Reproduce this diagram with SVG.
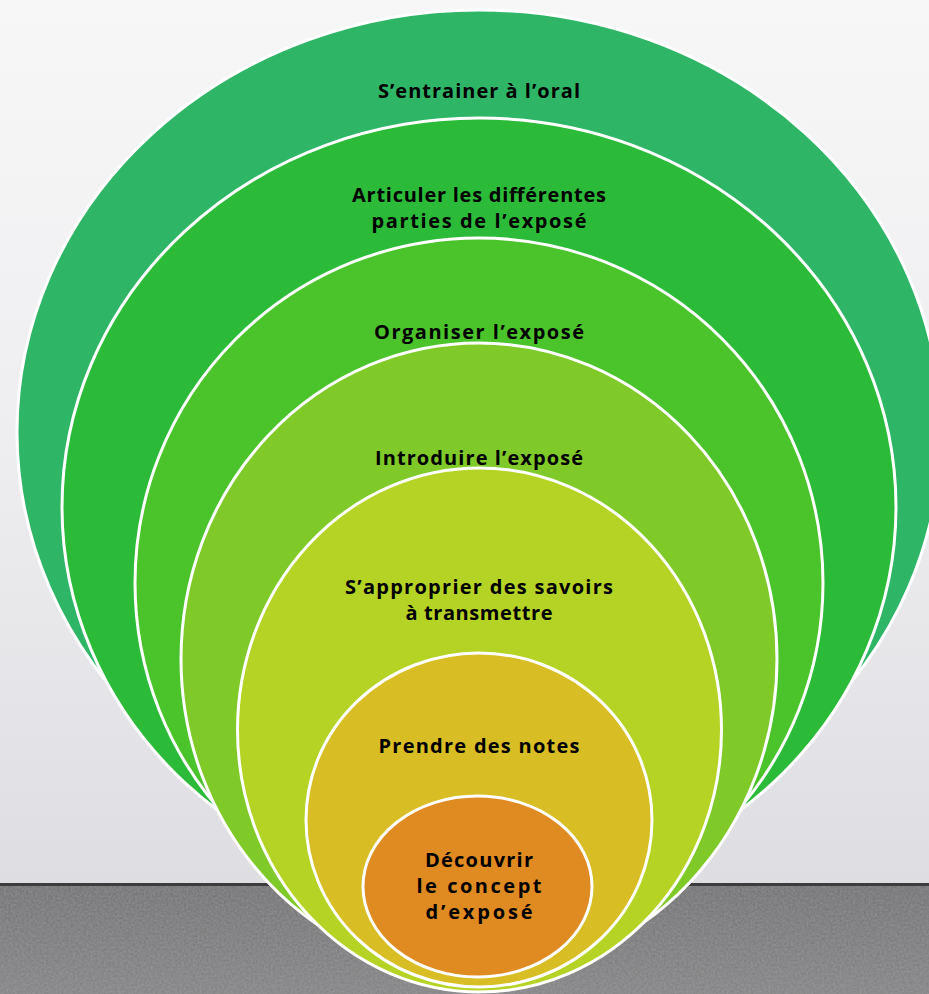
<svg xmlns="http://www.w3.org/2000/svg" width="929" height="994" viewBox="0 0 929 994">
  <defs>
    <linearGradient id="wall" x1="0" y1="0" x2="0" y2="1">
      <stop offset="0" stop-color="#f7f7f8"/>
      <stop offset="0.5" stop-color="#eeeef0"/>
      <stop offset="1" stop-color="#dedde2"/>
    </linearGradient>
    <linearGradient id="floor" x1="0" y1="0" x2="0" y2="1">
      <stop offset="0" stop-color="#6e6e70"/>
      <stop offset="1" stop-color="#7f7f81"/>
    </linearGradient>
    <filter id="grain" x="0" y="0" width="100%" height="100%">
      <feTurbulence type="fractalNoise" baseFrequency="0.45" numOctaves="3" seed="7"/>
      <feColorMatrix type="matrix" values="0 0 0 0 0.6  0 0 0 0 0.58  0 0 0 0 0.58  0 0 0 0.5 0"/>
    </filter>
    <style>
      .ring { stroke: #ffffff; stroke-width: 3; }
      .lbl { font-family: "Open Sans", "Liberation Sans", sans-serif; font-weight: 700; font-size: 20px; fill: #000000; text-anchor: middle; }
    </style>
  </defs>

  <!-- background -->
  <rect x="0" y="0" width="929" height="885" fill="url(#wall)"/>
  <rect x="0" y="885" width="929" height="109" fill="url(#floor)"/>
  <rect x="0" y="885" width="929" height="109" filter="url(#grain)" opacity="0.7"/>
  <rect x="0" y="883" width="929" height="3" fill="#3c3c3e"/>

  <g id="node1">
    <ellipse class="ring" cx="479" cy="432" rx="462" ry="422" fill="#2eb566"/>
    <text class="lbl" x="479" y="98" textLength="202" lengthAdjust="spacing">S’entrainer à l’oral</text>
  </g>
  <g id="node2">
    <ellipse class="ring" cx="479" cy="507" rx="417" ry="389" fill="#2bbb38"/>
    <text class="lbl" x="479" y="202" textLength="254" lengthAdjust="spacing">Articuler les différentes</text>
    <text class="lbl" x="479" y="228" textLength="215" lengthAdjust="spacing">parties de l’exposé</text>
  </g>
  <g id="node3">
    <ellipse class="ring" cx="479" cy="583" rx="344" ry="345" fill="#4bc32a"/>
    <text class="lbl" x="479" y="339" textLength="210" lengthAdjust="spacing">Organiser l’exposé</text>
  </g>
  <g id="node4">
    <ellipse class="ring" cx="479" cy="659" rx="298" ry="316" fill="#7fc929"/>
    <text class="lbl" x="479" y="465" textLength="208" lengthAdjust="spacing">Introduire l’exposé</text>
  </g>
  <g id="node5">
    <ellipse class="ring" cx="479.5" cy="730" rx="242" ry="262" fill="#b5d325"/>
    <text class="lbl" x="479" y="594" textLength="268" lengthAdjust="spacing">S’approprier des savoirs</text>
    <text class="lbl" x="479" y="620" textLength="147" lengthAdjust="spacing">à transmettre</text>
  </g>
  <g id="node6">
    <ellipse class="ring" cx="479" cy="820" rx="173" ry="167" fill="#d8be24"/>
    <text class="lbl" x="479" y="753" textLength="201" lengthAdjust="spacing">Prendre des notes</text>
  </g>
  <g id="node7">
    <ellipse class="ring" cx="477.5" cy="886.5" rx="114.5" ry="90.5" fill="#e08a22"/>
    <text class="lbl" x="479" y="867" textLength="108" lengthAdjust="spacing">Découvrir</text>
    <text class="lbl" x="479" y="893" textLength="125" lengthAdjust="spacing">le concept</text>
    <text class="lbl" x="479" y="919" textLength="107" lengthAdjust="spacing">d’exposé</text>
  </g>
</svg>
